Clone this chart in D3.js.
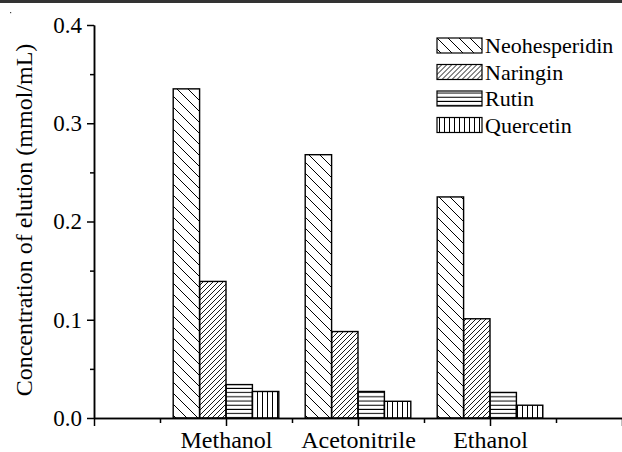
<!DOCTYPE html>
<html>
<head>
<meta charset="utf-8">
<script src="https://cdn.jsdelivr.net/npm/d3@7/dist/d3.min.js"></script>
<style>
  html, body { margin: 0; padding: 0; background: #fff; }
  svg text { font-family: "Liberation Serif", "Times New Roman", serif; fill: #000; }
</style>
</head>
<body>
<div id="chart"></div>
<script>
var w = 622, h = 452;

// data
var categories = ["Methanol", "Acetonitrile", "Ethanol"];
var seriesNames = ["Neohesperidin", "Naringin", "Rutin", "Quercetin"];
var neohesperidin = [0.335, 0.268, 0.225];
var naringin = [0.139, 0.088, 0.101];
var rutin = [0.034, 0.027, 0.026];
var quercetin = [0.027, 0.017, 0.013];
var yTicks = [0, 0.1, 0.2, 0.3, 0.4];
var yMinorTicks = [0.05, 0.15, 0.25, 0.35];

var seriesValues = [neohesperidin, naringin, rutin, quercetin];
var patternIds = ["hatchBack", "hatchFwd", "hatchHoriz", "hatchVert"];

var svg = d3.select("#chart")
  .append("svg")
  .attr("width", w)
  .attr("height", h);

// dark strip along the top edge
svg.append("rect")
  .attr("x", 0).attr("y", 0)
  .attr("width", w).attr("height", 3)
  .attr("fill", "#333");
svg.append("rect")
  .attr("x", 10).attr("y", 12)
  .attr("width", 1.2).attr("height", 1.2)
  .attr("fill", "#444");

// hatch patterns
var defs = svg.append("defs");

function addPattern(id, size, d, sw) {
  defs.append("pattern")
    .attr("id", id)
    .attr("patternUnits", "userSpaceOnUse")
    .attr("width", size)
    .attr("height", size)
    .append("path")
    .attr("d", d)
    .attr("stroke", "#000")
    .attr("stroke-width", sw)
    .attr("fill", "none");
}
addPattern("hatchBack", 11, "M0,0 L11,11 M-1,10 L1,12 M10,-1 L12,1", 1);
addPattern("hatchFwd", 5, "M0,5 L5,0 M-1,1 L1,-1 M4,6 L6,4", 0.9);
addPattern("hatchHoriz", 4.2, "M0,2 L4.2,2", 1);
addPattern("hatchVert", 5, "M2.5,0 L2.5,5", 1);

// scales
var xScale = d3.scaleLinear()
  .domain([0, 4])
  .range([94, 622]);

var yScale = d3.scaleLinear()
  .domain([0, 0.4])
  .range([418, 25]);

var barW = 0.2;

// bars
seriesValues.forEach(function(vals, j) {
  svg.append("g")
    .selectAll("rect")
    .data(vals)
    .enter()
    .append("rect")
    .attr("x", function(d, i) { return xScale(i + 1 - 0.4 + j * barW); })
    .attr("y", function(d) { return yScale(d); })
    .attr("width", xScale(barW) - xScale(0))
    .attr("height", function(d) { return yScale(0) - yScale(d); })
    .attr("fill", "url(#" + patternIds[j] + ")")
    .attr("stroke", "#000")
    .attr("stroke-width", 1.4);
});

// X axis, major + minor ticks
var xAxis = d3.axisBottom(xScale)
  .tickValues([0, 1, 2, 3, 4])
  .tickFormat(function(d) { return categories[d - 1] || ""; })
  .tickSize(8)
  .tickSizeOuter(0);

var xMinor = d3.axisBottom(xScale)
  .tickValues([0.5, 1.5, 2.5, 3.5])
  .tickFormat("")
  .tickSize(5)
  .tickSizeOuter(0);

var gx = svg.append("g")
  .attr("transform", "translate(0," + yScale(0) + ")")
  .call(xAxis);
svg.append("g")
  .attr("transform", "translate(0," + yScale(0) + ")")
  .call(xMinor);

// Y axis
var yAxis = d3.axisLeft(yScale)
  .tickValues(yTicks)
  .tickFormat(d3.format(".1f"))
  .tickSize(7)
  .tickSizeOuter(0)
  .tickPadding(5);

var yMinor = d3.axisLeft(yScale)
  .tickValues(yMinorTicks)
  .tickFormat("")
  .tickSize(4)
  .tickSizeOuter(0);

var gy = svg.append("g")
  .attr("transform", "translate(" + xScale(0) + ",0)")
  .call(yAxis);
svg.append("g")
  .attr("transform", "translate(" + xScale(0) + ",0)")
  .call(yMinor);

svg.selectAll(".domain, .tick line")
  .attr("stroke", "#000")
  .attr("stroke-width", 1.5);

// category labels: baseline just above the bottom edge
gx.selectAll("text")
  .attr("y", 30)
  .attr("dy", null)
  .attr("font-size", 24)
  .attr("fill", "#000");

gy.selectAll("text")
  .attr("font-size", 23)
  .attr("fill", "#000");

// Y axis title
svg.append("text")
  .attr("transform", "translate(32,220) rotate(-90)")
  .attr("text-anchor", "middle")
  .attr("font-size", 24)
  .text("Concentration of elution (mmol/mL)");

// legend
var legend = svg.append("g")
  .selectAll("g")
  .data(seriesNames)
  .enter()
  .append("g")
  .attr("transform", function(d, i) { return "translate(437," + (38 + i * 26.5) + ")"; });

legend.append("rect")
  .attr("width", 45)
  .attr("height", 15)
  .attr("fill", function(d, i) { return "url(#" + patternIds[i] + ")"; })
  .attr("stroke", "#000")
  .attr("stroke-width", 1.2);

legend.append("text")
  .attr("x", 48)
  .attr("y", 15)
  .attr("font-size", 22)
  .text(function(d) { return d; });
</script>
</body>
</html>
